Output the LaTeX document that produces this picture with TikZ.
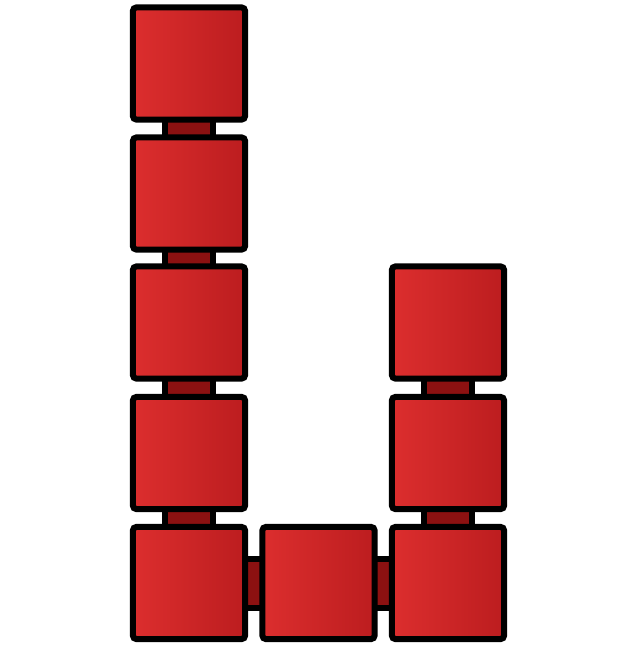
\documentclass[tikz,border=0pt]{standalone}
\usetikzlibrary{backgrounds}
\definecolor{blocklight}{HTML}{DC2E2E}
\definecolor{blockdark}{HTML}{BC1D1F}
\definecolor{linkred}{HTML}{8C1111}

\begin{document}
\begin{tikzpicture}[
  x=0.02cm, y=-0.02cm,
  block/.style={draw=black, line width=0.12cm, rounded corners=0.08cm,
                left color=blocklight, right color=blockdark,
                minimum size=2.25cm, inner sep=0pt},
  link/.style={draw=black, line width=0.12cm, double=linkred,
               double distance=0.86cm}
]
\useasboundingbox (0,0) rectangle (621,650);

%% Blocks
\foreach \nm/\cx/\cy in {a1/189/63.5, a2/189/193.5, a3/189/322.5, a4/189/453,
                          a5/189/583, b5/318.5/583, c5/448/583, c4/448/453,
                          c3/448/322.5}{
  \node[block] (\nm) at (\cx,\cy) {};
}

%% Links behind the blocks
\begin{scope}[on background layer]
\foreach \from/\to in {a1/a2, a2/a3, a3/a4, a4/a5, a5/b5, b5/c5, c5/c4, c4/c3}{
  \draw[link] (\from.center) -- (\to.center);
}
\end{scope}
\end{tikzpicture}
\end{document}
